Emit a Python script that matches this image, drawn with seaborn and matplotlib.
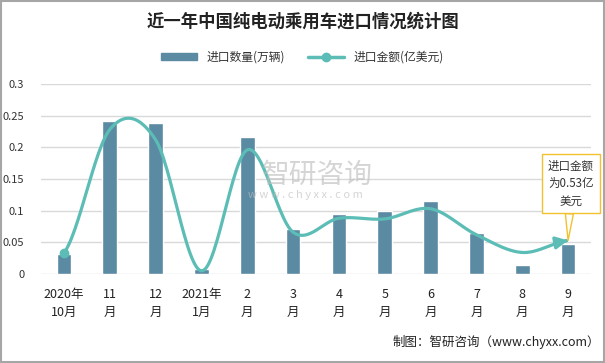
import numpy as np
import pandas as pd
import seaborn as sns
import matplotlib.pyplot as plt
from matplotlib.lines import Line2D
from matplotlib.patches import Patch

# Data
months = ['2020年\n10月', '11\n月', '12\n月', '2021年\n1月', '2\n月', '3\n月',
          '4\n月', '5\n月', '6\n月', '7\n月', '8\n月', '9\n月']
qty = [0.032, 0.242, 0.239, 0.008, 0.217, 0.071, 0.095, 0.100, 0.116, 0.064, 0.015, 0.048]  # 万辆
amount = [0.33, 2.28, 2.12, 0.05, 1.96, 0.66, 0.88, 0.87, 1.03, 0.62, 0.34, 0.53]  # 亿美元

bar_color = '#5B8AA3'
line_color = '#5BBDB5'

sns.set_theme(style='white')
plt.rcParams['font.family'] = ['Noto Sans CJK SC', 'DejaVu Sans']

fig = plt.figure(figsize=(6.05, 3.63), dpi=100)
ax = fig.add_axes([41 / 605, 89 / 363, 550 / 605, 190 / 363])

df = pd.DataFrame({'month': months, 'qty': qty})
sns.barplot(data=df, x='month', y='qty', color=bar_color, width=0.32,
            saturation=1, ax=ax, zorder=2)
ax.set_xlim(-0.5, len(months) - 0.5)
ax.set_ylim(0, 0.3)
ax.set_yticks([0, 0.05, 0.1, 0.15, 0.2, 0.25, 0.3])
ax.set_yticklabels(['0', '0.05', '0.1', '0.15', '0.2', '0.25', '0.3'])
ax.set_xlabel('')
ax.set_ylabel('')
ax.grid(axis='y', color='#D9D9D9', lw=1, zorder=0)
for s in ax.spines.values():
    s.set_visible(False)
ax.tick_params(axis='y', labelsize=8, colors='#333333', pad=12, length=0)
ax.tick_params(axis='x', labelsize=9, colors='#222222', pad=10, length=0)
for t in ax.get_xticklabels():
    t.set_linespacing(1.55)

# secondary (hidden) axis for amount, smoothed like Excel (Catmull-Rom)
ax2 = ax.twinx()
ax2.set_ylim(0, 3)
ax2.set_yticks([])
for s in ax2.spines.values():
    s.set_visible(False)

x = np.arange(len(amount), dtype=float)
p = np.array(amount)
pp = np.concatenate([[p[0]], p, [p[-1]]])
xs, ys = [], []
t = np.linspace(0, 1, 30)
for i in range(len(p) - 1):
    p0, p1, p2, p3 = pp[i], pp[i + 1], pp[i + 2], pp[i + 3]
    m1 = (p2 - p0) / 2
    m2 = (p3 - p1) / 2
    h00 = 2 * t**3 - 3 * t**2 + 1
    h10 = t**3 - 2 * t**2 + t
    h01 = -2 * t**3 + 3 * t**2
    h11 = t**3 - t**2
    xs.extend(x[i] + t)
    ys.extend(h00 * p1 + h10 * m1 + h01 * p2 + h11 * m2)
xs = np.array(xs)
ys = np.array(ys)
ax2.plot(xs[:-3], ys[:-3], color=line_color, lw=2.3, solid_capstyle='round', zorder=3)
ax2.annotate('', xy=(xs[-1], ys[-1]), xytext=(xs[-4], ys[-4]),
             arrowprops=dict(arrowstyle='-|>,head_length=0.6,head_width=0.3',
                             color=line_color, lw=2.3))
ax2.plot(x[0], p[0], 'o', color=line_color, ms=6, zorder=4)

# callout for last value
ax2.annotate('进口金额\n为0.53亿\n美元', xy=(x[-1], p[-1]), xytext=(2, 41),
             textcoords='offset points', ha='center', va='center', fontsize=8.3,
             color='#333333', linespacing=1.45, annotation_clip=False,
             bbox=dict(boxstyle='square,pad=0.5', fc='white', ec='#F2C12E', lw=1),
             arrowprops=dict(arrowstyle='wedge,tail_width=0.7,shrink_factor=0.5',
                             fc='white', ec='#F2C12E', lw=1, shrinkA=0, shrinkB=0))

# watermark
fig.text(0.525, 0.518, '智研咨询', ha='center', va='center', fontsize=20,
         color='#BFBFBF', alpha=0.65, zorder=1)
fig.text(0.505, 0.462, 'w w w . c h y x x . c o m', ha='center', va='center',
         fontsize=8, color='#BFBFBF', alpha=0.65)

# title and legend
fig.text(0.5, 0.94, '近一年中国纯电动乘用车进口情况统计图', ha='center', va='center',
         fontsize=12.5, fontweight='bold', color='#222222')
handles = [Patch(color=bar_color),
           Line2D([0], [0], color=line_color, lw=2.5, marker='o', ms=6,
                  markevery=[0])]
fig.legend(handles, ['进口数量(万辆)', '进口金额(亿美元)'], loc='center',
           bbox_to_anchor=(0.5, 0.843), ncol=2, frameon=False, fontsize=8.5,
           handlelength=3.0, handleheight=0.6, columnspacing=2.0,
           labelcolor='#333333')

fig.text(0.992, 0.058, '制图：智研咨询（www.chyxx.com）', ha='right', va='center',
         fontsize=9, color='#222222')

# outer frame
fig.patches.append(plt.Rectangle((0.001, 0.002), 0.997, 0.995, transform=fig.transFigure,
                                 fill=False, ec='#A6A6A6', lw=1.5))

fig.savefig('out.png', dpi=100)
